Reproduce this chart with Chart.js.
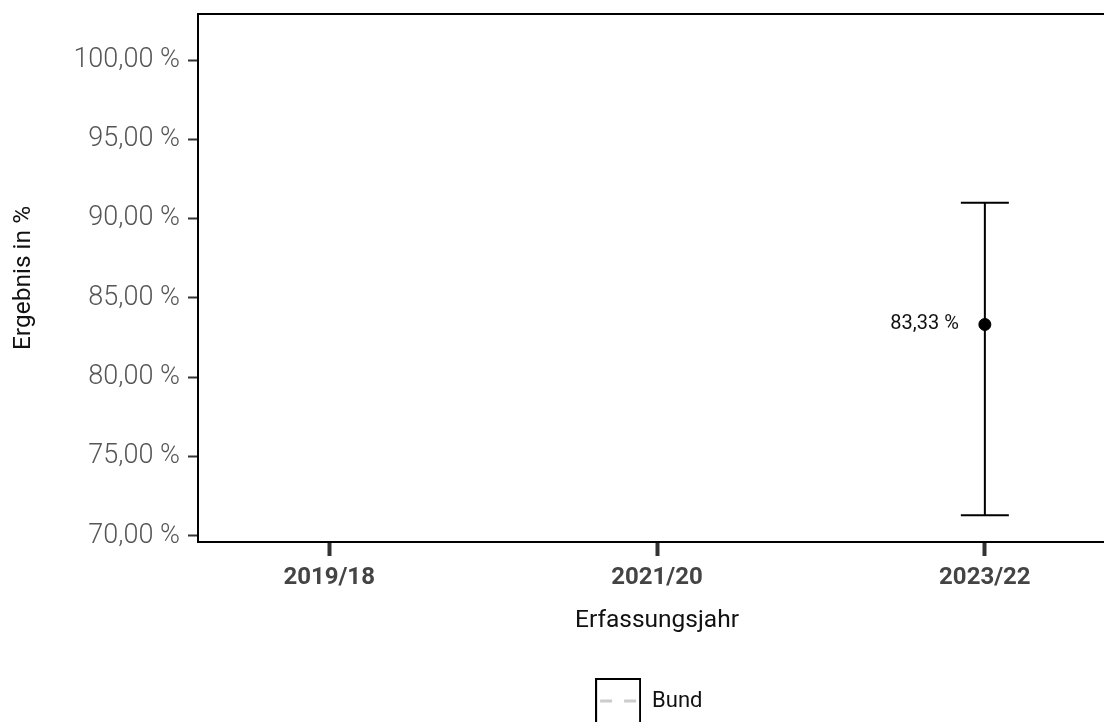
<!DOCTYPE html>
<html>
<head>
<meta charset="utf-8">
<script src="https://cdn.jsdelivr.net/npm/chart.js@4"></script>
<style>
  html, body { margin: 0; padding: 0; background: #fff; overflow: hidden; }
  #wrap { width: 1104px; height: 722px; overflow: hidden; }
</style>
</head>
<body>
<div id="wrap"><canvas id="chart" width="1130" height="722"></canvas></div>
<script>
// Daten
const years = ["2019/18", "2021/20", "2023/22"];
const results = [null, null, 83.33];
const ciLower = [null, null, 71.3];
const ciUpper = [null, null, 91.0];
const yTicks = [70, 75, 80, 85, 90, 95, 100];
const legendLabels = ["Bund"];

const fmt = v => v.toFixed(2).replace(".", ",") + " %";

// Legendensymbol: Kasten mit gestrichelter Linie
function legendIcon() {
  const c = document.createElement("canvas");
  c.width = 46; c.height = 46;
  const g = c.getContext("2d");
  g.strokeStyle = "#000"; g.lineWidth = 2;
  g.strokeRect(1, 1, 44, 44);
  g.strokeStyle = "#cccccc"; g.lineWidth = 3;
  g.setLineDash([12, 12]);
  g.beginPath(); g.moveTo(5, 23); g.lineTo(42, 23); g.stroke();
  return c;
}
const icon = legendIcon();

// Rahmen um den Plotbereich
const framePlugin = {
  id: "frame",
  afterDraw(chart) {
    const {ctx, chartArea: a} = chart;
    ctx.save();
    ctx.strokeStyle = "#000"; ctx.lineWidth = 2;
    ctx.strokeRect(a.left, a.top, a.right - a.left, a.bottom - a.top);
    ctx.restore();
  }
};

// Konfidenzintervalle + Wertelabels
const errorBarPlugin = {
  id: "errorBars",
  beforeDatasetsDraw(chart) {
    const {ctx, scales: {x, y}} = chart;
    ctx.save();
    ctx.strokeStyle = "#000"; ctx.lineWidth = 2;
    years.forEach((yr, i) => {
      if (ciLower[i] == null) return;
      const px = x.getPixelForValue(i);
      const top = y.getPixelForValue(ciUpper[i]);
      const bot = y.getPixelForValue(ciLower[i]);
      ctx.beginPath();
      ctx.moveTo(px, top); ctx.lineTo(px, bot);
      ctx.moveTo(px - 24, top); ctx.lineTo(px + 24, top);
      ctx.moveTo(px - 24, bot); ctx.lineTo(px + 24, bot);
      ctx.stroke();
    });
    ctx.restore();
  },
  afterDatasetsDraw(chart) {
    const {ctx, scales: {x, y}} = chart;
    ctx.save();
    ctx.fillStyle = "#111";
    ctx.font = "20px Roboto";
    ctx.textAlign = "right";
    ctx.textBaseline = "middle";
    results.forEach((v, i) => {
      if (v == null) return;
      ctx.fillText(fmt(v), x.getPixelForValue(i) - 26, y.getPixelForValue(v));
    });
    ctx.restore();
  }
};

const points = [];
results.forEach((v, i) => { if (v != null) points.push({x: i, y: v}); });

new Chart(document.getElementById("chart"), {
  type: "scatter",
  data: {
    datasets: [
      {
        label: "Ergebnis",
        data: points,
        backgroundColor: "#000",
        borderColor: "#000",
        pointRadius: 6,
        pointHoverRadius: 6
      },
      {
        label: legendLabels[0],
        data: [],
        type: "line",
        borderColor: "#cccccc",
        borderDash: [12, 12]
      }
    ]
  },
  options: {
    responsive: false,
    animation: false,
    layout: { padding: { top: 14, right: 14, left: 0, bottom: 0 } },
    plugins: {
      tooltip: { enabled: false },
      legend: {
        position: "bottom",
        fullSize: false,
        // leerer Titel: schafft Platz, damit der Kasten nicht abgeschnitten wird
        title: { display: true, text: " ", padding: 0, font: { size: 10 } },
        labels: {
          usePointStyle: true,
          pointStyleWidth: 46,
          padding: 9,
          color: "#111",
          font: { family: "Roboto", size: 22 },
          // Leerzeichen am Ende verschieben den Eintrag etwas nach links
          generateLabels: () => legendLabels.map((t, i) => ({
            text: t + "\u00a0\u00a0\u00a0", pointStyle: icon, datasetIndex: 1, hidden: false,
            fontColor: "#111", lineWidth: 0
          }))
        }
      }
    },
    scales: {
      x: {
        type: "linear",
        min: -0.4,
        max: 2.4,
        afterBuildTicks: s => { s.ticks = years.map((_, i) => ({value: i})); },
        afterFit: s => { s.height = 127; s.paddingLeft = 0; s.paddingRight = 0; },
        border: { display: true, color: "#000", width: 2 },
        grid: { drawOnChartArea: false, tickLength: 14, tickWidth: 4, tickColor: "#333" },
        ticks: {
          callback: v => years[v],
          color: "#444",
          padding: 8,
          maxRotation: 0,
          font: { family: "Roboto", size: 24, weight: "bold" }
        },
        title: {
          display: true,
          text: "Erfassungsjahr",
          color: "#111",
          font: { family: "Roboto", size: 24.5 },
          padding: { top: 0, bottom: 33 }
        }
      },
      y: {
        min: 69.62,
        max: 102.9,
        afterBuildTicks: s => { s.ticks = yTicks.map(v => ({value: v})); },
        afterFit: s => { s.width = 198; s.paddingTop = 0; s.paddingBottom = 0; },
        border: { display: true, color: "#000", width: 2 },
        grid: { drawOnChartArea: false, tickLength: 10, tickWidth: 2, tickColor: "#333" },
        ticks: {
          callback: v => fmt(v),
          color: "#555",
          padding: 8,
          font: { family: "Roboto", size: 27, weight: 300 }
        },
        title: {
          display: true,
          text: "Ergebnis in %",
          color: "#111",
          font: { family: "Roboto", size: 24.5 },
          padding: { top: 9, bottom: 0 }
        }
      }
    }
  },
  plugins: [errorBarPlugin, framePlugin]
});
</script>
</body>
</html>
